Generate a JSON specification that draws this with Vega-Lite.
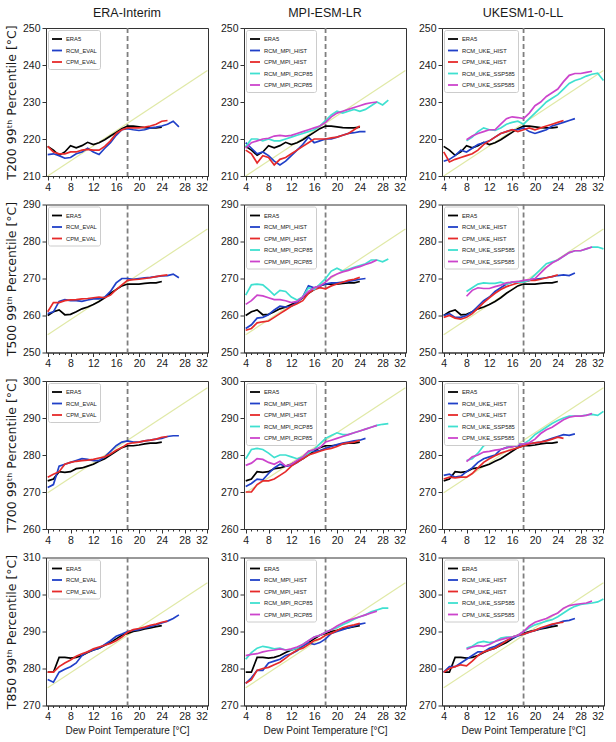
{
"$schema": "https://vega.github.io/schema/vega-lite/v6.json",
"background": "white",
"padding": {"left": 4, "top": 6, "right": 5, "bottom": 5},
"columns": 3,
"spacing": {"row": 28.5, "column": 36},
"bounds": "flush",
"resolve": {"scale": {"x": "independent", "y": "independent", "color": "independent"}},
"config": {
 "font": "Liberation Sans",
 "view": {"stroke": "#333333", "strokeWidth": 1},
 "axis": {"grid": false, "domainColor": "#333333", "tickColor": "#333333", "labelColor": "#1a1a1a", "labelFont": "Liberation Sans", "labelFontSize": 10.5, "labelPadding": 2, "tickSize": 4, "titleColor": "#1a1a1a", "titleFontWeight": "normal"},
 "axisY": {"titleFont": "DejaVu Sans", "titleFontSize": 12.5, "titlePadding": 4},
 "axisX": {"titleFont": "Liberation Sans", "titleFontSize": 10, "titlePadding": 3},
 "title": {"font": "Liberation Sans", "fontSize": 12.5, "fontWeight": "normal", "color": "#1a1a1a", "offset": 4},
 "legend": {"labelFont": "Liberation Sans", "labelFontSize": 5.8, "labelColor": "#1a1a1a", "symbolType": "stroke", "symbolSize": 100, "symbolStrokeWidth": 1.8, "padding": 3, "rowPadding": 1.5, "labelOffset": 3, "strokeColor": "#cccccc", "fillColor": "#ffffff", "cornerRadius": 2, "offset": 2}
},
"datasets": {
"T200": [
{"s":"ERA5","x":4,"y":218},{"s":"ERA5","x":5,"y":217},{"s":"ERA5","x":6,"y":215.6},{"s":"ERA5","x":7,"y":216.5},{"s":"ERA5","x":8,"y":218.2},{"s":"ERA5","x":9,"y":217.6},{"s":"ERA5","x":10,"y":218.2},{"s":"ERA5","x":11,"y":219.1},{"s":"ERA5","x":12,"y":218.5},{"s":"ERA5","x":13,"y":219},{"s":"ERA5","x":14,"y":219.8},{"s":"ERA5","x":15,"y":220.8},{"s":"ERA5","x":16,"y":221.8},{"s":"ERA5","x":17,"y":222.8},{"s":"ERA5","x":18,"y":223.5},{"s":"ERA5","x":19,"y":223.5},{"s":"ERA5","x":20,"y":223.3},{"s":"ERA5","x":21,"y":223.1},{"s":"ERA5","x":22,"y":223},{"s":"ERA5","x":23,"y":223},{"s":"ERA5","x":24,"y":223.2},
{"s":"RCM_EVAL","x":4,"y":215.8},{"s":"RCM_EVAL","x":5,"y":216},{"s":"RCM_EVAL","x":6,"y":215.5},{"s":"RCM_EVAL","x":7,"y":214.8},{"s":"RCM_EVAL","x":8,"y":215},{"s":"RCM_EVAL","x":9,"y":216},{"s":"RCM_EVAL","x":10,"y":216.5},{"s":"RCM_EVAL","x":11,"y":217.5},{"s":"RCM_EVAL","x":12,"y":216.5},{"s":"RCM_EVAL","x":13,"y":215.8},{"s":"RCM_EVAL","x":14,"y":217.5},{"s":"RCM_EVAL","x":15,"y":219},{"s":"RCM_EVAL","x":16,"y":221},{"s":"RCM_EVAL","x":17,"y":222.5},{"s":"RCM_EVAL","x":18,"y":222.8},{"s":"RCM_EVAL","x":19,"y":222.5},{"s":"RCM_EVAL","x":20,"y":222.3},{"s":"RCM_EVAL","x":21,"y":222.5},{"s":"RCM_EVAL","x":22,"y":223},{"s":"RCM_EVAL","x":23,"y":223.2},{"s":"RCM_EVAL","x":24,"y":223.5},{"s":"RCM_EVAL","x":25,"y":224},{"s":"RCM_EVAL","x":26,"y":224.8},{"s":"RCM_EVAL","x":27,"y":223.3},
{"s":"CPM_EVAL","x":4,"y":218},{"s":"CPM_EVAL","x":5,"y":216.5},{"s":"CPM_EVAL","x":6,"y":216},{"s":"CPM_EVAL","x":7,"y":216},{"s":"CPM_EVAL","x":8,"y":216.5},{"s":"CPM_EVAL","x":9,"y":216.5},{"s":"CPM_EVAL","x":10,"y":217},{"s":"CPM_EVAL","x":11,"y":217.2},{"s":"CPM_EVAL","x":12,"y":217},{"s":"CPM_EVAL","x":13,"y":217},{"s":"CPM_EVAL","x":14,"y":218},{"s":"CPM_EVAL","x":15,"y":219.5},{"s":"CPM_EVAL","x":16,"y":221.5},{"s":"CPM_EVAL","x":17,"y":222.5},{"s":"CPM_EVAL","x":18,"y":223},{"s":"CPM_EVAL","x":19,"y":223},{"s":"CPM_EVAL","x":20,"y":223},{"s":"CPM_EVAL","x":21,"y":223.2},{"s":"CPM_EVAL","x":22,"y":223.5},{"s":"CPM_EVAL","x":23,"y":224},{"s":"CPM_EVAL","x":24,"y":224.8},{"s":"CPM_EVAL","x":25,"y":225},
{"s":"RCM_MPI_HIST","x":4,"y":219},{"s":"RCM_MPI_HIST","x":5,"y":217.5},{"s":"RCM_MPI_HIST","x":6,"y":216},{"s":"RCM_MPI_HIST","x":7,"y":216.5},{"s":"RCM_MPI_HIST","x":8,"y":215.5},{"s":"RCM_MPI_HIST","x":9,"y":214},{"s":"RCM_MPI_HIST","x":10,"y":213},{"s":"RCM_MPI_HIST","x":11,"y":214},{"s":"RCM_MPI_HIST","x":12,"y":215.5},{"s":"RCM_MPI_HIST","x":13,"y":217},{"s":"RCM_MPI_HIST","x":14,"y":218.5},{"s":"RCM_MPI_HIST","x":15,"y":220.5},{"s":"RCM_MPI_HIST","x":16,"y":219},{"s":"RCM_MPI_HIST","x":17,"y":219.5},{"s":"RCM_MPI_HIST","x":18,"y":220},{"s":"RCM_MPI_HIST","x":19,"y":220},{"s":"RCM_MPI_HIST","x":20,"y":220.5},{"s":"RCM_MPI_HIST","x":21,"y":221},{"s":"RCM_MPI_HIST","x":22,"y":221.5},{"s":"RCM_MPI_HIST","x":23,"y":221.7},{"s":"RCM_MPI_HIST","x":24,"y":222},{"s":"RCM_MPI_HIST","x":25,"y":222},
{"s":"CPM_MPI_HIST","x":4,"y":217},{"s":"CPM_MPI_HIST","x":5,"y":216},{"s":"CPM_MPI_HIST","x":6,"y":213.5},{"s":"CPM_MPI_HIST","x":7,"y":215.5},{"s":"CPM_MPI_HIST","x":8,"y":215},{"s":"CPM_MPI_HIST","x":9,"y":213},{"s":"CPM_MPI_HIST","x":10,"y":214.5},{"s":"CPM_MPI_HIST","x":11,"y":215},{"s":"CPM_MPI_HIST","x":12,"y":216},{"s":"CPM_MPI_HIST","x":13,"y":217},{"s":"CPM_MPI_HIST","x":14,"y":218},{"s":"CPM_MPI_HIST","x":15,"y":219},{"s":"CPM_MPI_HIST","x":16,"y":220},{"s":"CPM_MPI_HIST","x":17,"y":220},{"s":"CPM_MPI_HIST","x":18,"y":220},{"s":"CPM_MPI_HIST","x":19,"y":220.3},{"s":"CPM_MPI_HIST","x":20,"y":220.5},{"s":"CPM_MPI_HIST","x":21,"y":221},{"s":"CPM_MPI_HIST","x":22,"y":221.5},{"s":"CPM_MPI_HIST","x":23,"y":222.5},{"s":"CPM_MPI_HIST","x":24,"y":223.5},
{"s":"RCM_MPI_RCP85","x":4,"y":218},{"s":"RCM_MPI_RCP85","x":5,"y":220},{"s":"RCM_MPI_RCP85","x":6,"y":220},{"s":"RCM_MPI_RCP85","x":7,"y":219.5},{"s":"RCM_MPI_RCP85","x":8,"y":220},{"s":"RCM_MPI_RCP85","x":9,"y":219.5},{"s":"RCM_MPI_RCP85","x":10,"y":219.5},{"s":"RCM_MPI_RCP85","x":11,"y":220},{"s":"RCM_MPI_RCP85","x":12,"y":220.5},{"s":"RCM_MPI_RCP85","x":13,"y":221},{"s":"RCM_MPI_RCP85","x":14,"y":221.5},{"s":"RCM_MPI_RCP85","x":15,"y":222},{"s":"RCM_MPI_RCP85","x":16,"y":222.5},{"s":"RCM_MPI_RCP85","x":17,"y":223.5},{"s":"RCM_MPI_RCP85","x":18,"y":225},{"s":"RCM_MPI_RCP85","x":19,"y":226.5},{"s":"RCM_MPI_RCP85","x":20,"y":227.5},{"s":"RCM_MPI_RCP85","x":21,"y":227},{"s":"RCM_MPI_RCP85","x":22,"y":227.5},{"s":"RCM_MPI_RCP85","x":23,"y":228},{"s":"RCM_MPI_RCP85","x":24,"y":227.5},{"s":"RCM_MPI_RCP85","x":25,"y":228},{"s":"RCM_MPI_RCP85","x":26,"y":229},{"s":"RCM_MPI_RCP85","x":27,"y":230},{"s":"RCM_MPI_RCP85","x":28,"y":229.2},{"s":"RCM_MPI_RCP85","x":29,"y":230.5},
{"s":"CPM_MPI_RCP85","x":4,"y":217.5},{"s":"CPM_MPI_RCP85","x":5,"y":219},{"s":"CPM_MPI_RCP85","x":6,"y":219.5},{"s":"CPM_MPI_RCP85","x":7,"y":220},{"s":"CPM_MPI_RCP85","x":8,"y":220.2},{"s":"CPM_MPI_RCP85","x":9,"y":220.8},{"s":"CPM_MPI_RCP85","x":10,"y":221},{"s":"CPM_MPI_RCP85","x":11,"y":220.8},{"s":"CPM_MPI_RCP85","x":12,"y":221},{"s":"CPM_MPI_RCP85","x":13,"y":221.5},{"s":"CPM_MPI_RCP85","x":14,"y":222},{"s":"CPM_MPI_RCP85","x":15,"y":222.5},{"s":"CPM_MPI_RCP85","x":16,"y":223},{"s":"CPM_MPI_RCP85","x":17,"y":223.5},{"s":"CPM_MPI_RCP85","x":18,"y":224.5},{"s":"CPM_MPI_RCP85","x":19,"y":226},{"s":"CPM_MPI_RCP85","x":20,"y":227},{"s":"CPM_MPI_RCP85","x":21,"y":227.5},{"s":"CPM_MPI_RCP85","x":22,"y":228},{"s":"CPM_MPI_RCP85","x":23,"y":228.5},{"s":"CPM_MPI_RCP85","x":24,"y":229},{"s":"CPM_MPI_RCP85","x":25,"y":229.5},{"s":"CPM_MPI_RCP85","x":26,"y":229.8},{"s":"CPM_MPI_RCP85","x":27,"y":230},
{"s":"RCM_UKE_HIST","x":4,"y":214},{"s":"RCM_UKE_HIST","x":5,"y":214.5},{"s":"RCM_UKE_HIST","x":6,"y":215.5},{"s":"RCM_UKE_HIST","x":7,"y":217},{"s":"RCM_UKE_HIST","x":8,"y":216.5},{"s":"RCM_UKE_HIST","x":9,"y":217.5},{"s":"RCM_UKE_HIST","x":10,"y":218.5},{"s":"RCM_UKE_HIST","x":11,"y":219},{"s":"RCM_UKE_HIST","x":12,"y":219.5},{"s":"RCM_UKE_HIST","x":13,"y":220.5},{"s":"RCM_UKE_HIST","x":14,"y":221.5},{"s":"RCM_UKE_HIST","x":15,"y":222},{"s":"RCM_UKE_HIST","x":16,"y":222.5},{"s":"RCM_UKE_HIST","x":17,"y":222.5},{"s":"RCM_UKE_HIST","x":18,"y":223},{"s":"RCM_UKE_HIST","x":19,"y":222},{"s":"RCM_UKE_HIST","x":20,"y":221.5},{"s":"RCM_UKE_HIST","x":21,"y":222},{"s":"RCM_UKE_HIST","x":22,"y":222.5},{"s":"RCM_UKE_HIST","x":23,"y":223.5},{"s":"RCM_UKE_HIST","x":24,"y":224},{"s":"RCM_UKE_HIST","x":25,"y":224.5},{"s":"RCM_UKE_HIST","x":26,"y":225},{"s":"RCM_UKE_HIST","x":27,"y":225.5},
{"s":"CPM_UKE_HIST","x":4,"y":216.5},{"s":"CPM_UKE_HIST","x":5,"y":213.8},{"s":"CPM_UKE_HIST","x":6,"y":214.5},{"s":"CPM_UKE_HIST","x":7,"y":215},{"s":"CPM_UKE_HIST","x":8,"y":215.5},{"s":"CPM_UKE_HIST","x":9,"y":216},{"s":"CPM_UKE_HIST","x":10,"y":217},{"s":"CPM_UKE_HIST","x":11,"y":218.5},{"s":"CPM_UKE_HIST","x":12,"y":219.5},{"s":"CPM_UKE_HIST","x":13,"y":220.5},{"s":"CPM_UKE_HIST","x":14,"y":221.5},{"s":"CPM_UKE_HIST","x":15,"y":222},{"s":"CPM_UKE_HIST","x":16,"y":222.5},{"s":"CPM_UKE_HIST","x":17,"y":222},{"s":"CPM_UKE_HIST","x":18,"y":222.5},{"s":"CPM_UKE_HIST","x":19,"y":223},{"s":"CPM_UKE_HIST","x":20,"y":222.5},{"s":"CPM_UKE_HIST","x":21,"y":223},{"s":"CPM_UKE_HIST","x":22,"y":223.5},{"s":"CPM_UKE_HIST","x":23,"y":224},{"s":"CPM_UKE_HIST","x":24,"y":224.5},{"s":"CPM_UKE_HIST","x":25,"y":225},
{"s":"RCM_UKE_SSP585","x":8,"y":219.5},{"s":"RCM_UKE_SSP585","x":9,"y":220.5},{"s":"RCM_UKE_SSP585","x":10,"y":222},{"s":"RCM_UKE_SSP585","x":11,"y":223},{"s":"RCM_UKE_SSP585","x":12,"y":222.5},{"s":"RCM_UKE_SSP585","x":13,"y":222.3},{"s":"RCM_UKE_SSP585","x":14,"y":223},{"s":"RCM_UKE_SSP585","x":15,"y":224},{"s":"RCM_UKE_SSP585","x":16,"y":224.5},{"s":"RCM_UKE_SSP585","x":17,"y":224.8},{"s":"RCM_UKE_SSP585","x":18,"y":224},{"s":"RCM_UKE_SSP585","x":19,"y":225.5},{"s":"RCM_UKE_SSP585","x":20,"y":227},{"s":"RCM_UKE_SSP585","x":21,"y":228.5},{"s":"RCM_UKE_SSP585","x":22,"y":230},{"s":"RCM_UKE_SSP585","x":23,"y":231},{"s":"RCM_UKE_SSP585","x":24,"y":232},{"s":"RCM_UKE_SSP585","x":25,"y":233.5},{"s":"RCM_UKE_SSP585","x":26,"y":235},{"s":"RCM_UKE_SSP585","x":27,"y":235.8},{"s":"RCM_UKE_SSP585","x":28,"y":236.3},{"s":"RCM_UKE_SSP585","x":29,"y":237},{"s":"RCM_UKE_SSP585","x":30,"y":237.5},{"s":"RCM_UKE_SSP585","x":31,"y":237.8},{"s":"RCM_UKE_SSP585","x":32,"y":235.8},
{"s":"CPM_UKE_SSP585","x":8,"y":219.8},{"s":"CPM_UKE_SSP585","x":9,"y":220.8},{"s":"CPM_UKE_SSP585","x":10,"y":221.5},{"s":"CPM_UKE_SSP585","x":11,"y":222},{"s":"CPM_UKE_SSP585","x":12,"y":222.5},{"s":"CPM_UKE_SSP585","x":13,"y":222.5},{"s":"CPM_UKE_SSP585","x":14,"y":224},{"s":"CPM_UKE_SSP585","x":15,"y":225.5},{"s":"CPM_UKE_SSP585","x":16,"y":226},{"s":"CPM_UKE_SSP585","x":17,"y":225.8},{"s":"CPM_UKE_SSP585","x":18,"y":225.5},{"s":"CPM_UKE_SSP585","x":19,"y":227},{"s":"CPM_UKE_SSP585","x":20,"y":229},{"s":"CPM_UKE_SSP585","x":21,"y":230},{"s":"CPM_UKE_SSP585","x":22,"y":231.5},{"s":"CPM_UKE_SSP585","x":23,"y":232.5},{"s":"CPM_UKE_SSP585","x":24,"y":233.5},{"s":"CPM_UKE_SSP585","x":25,"y":235.5},{"s":"CPM_UKE_SSP585","x":26,"y":237.2},{"s":"CPM_UKE_SSP585","x":27,"y":237.7},{"s":"CPM_UKE_SSP585","x":28,"y":237.7},{"s":"CPM_UKE_SSP585","x":29,"y":238},{"s":"CPM_UKE_SSP585","x":30,"y":238.3}
],
"T500": [
{"s":"ERA5","x":4,"y":260},{"s":"ERA5","x":5,"y":261},{"s":"ERA5","x":6,"y":261.5},{"s":"ERA5","x":7,"y":260.2},{"s":"ERA5","x":8,"y":260.3},{"s":"ERA5","x":9,"y":261},{"s":"ERA5","x":10,"y":261.8},{"s":"ERA5","x":11,"y":262.3},{"s":"ERA5","x":12,"y":263},{"s":"ERA5","x":13,"y":263.8},{"s":"ERA5","x":14,"y":264.8},{"s":"ERA5","x":15,"y":266},{"s":"ERA5","x":16,"y":267},{"s":"ERA5","x":17,"y":268},{"s":"ERA5","x":18,"y":268.5},{"s":"ERA5","x":19,"y":268.5},{"s":"ERA5","x":20,"y":268.5},{"s":"ERA5","x":21,"y":268.7},{"s":"ERA5","x":22,"y":268.8},{"s":"ERA5","x":23,"y":268.8},{"s":"ERA5","x":24,"y":269.2},
{"s":"RCM_EVAL","x":4,"y":260.5},{"s":"RCM_EVAL","x":5,"y":261},{"s":"RCM_EVAL","x":6,"y":263.8},{"s":"RCM_EVAL","x":7,"y":264.3},{"s":"RCM_EVAL","x":8,"y":264},{"s":"RCM_EVAL","x":9,"y":264},{"s":"RCM_EVAL","x":10,"y":263.8},{"s":"RCM_EVAL","x":11,"y":264.2},{"s":"RCM_EVAL","x":12,"y":264.5},{"s":"RCM_EVAL","x":13,"y":264.5},{"s":"RCM_EVAL","x":14,"y":265},{"s":"RCM_EVAL","x":15,"y":266.5},{"s":"RCM_EVAL","x":16,"y":268.8},{"s":"RCM_EVAL","x":17,"y":270},{"s":"RCM_EVAL","x":18,"y":270},{"s":"RCM_EVAL","x":19,"y":269.8},{"s":"RCM_EVAL","x":20,"y":270},{"s":"RCM_EVAL","x":21,"y":270.2},{"s":"RCM_EVAL","x":22,"y":270.3},{"s":"RCM_EVAL","x":23,"y":270.5},{"s":"RCM_EVAL","x":24,"y":270.7},{"s":"RCM_EVAL","x":25,"y":270.8},{"s":"RCM_EVAL","x":26,"y":271.2},{"s":"RCM_EVAL","x":27,"y":270.2},
{"s":"CPM_EVAL","x":4,"y":261},{"s":"CPM_EVAL","x":5,"y":263.5},{"s":"CPM_EVAL","x":6,"y":263.5},{"s":"CPM_EVAL","x":7,"y":264},{"s":"CPM_EVAL","x":8,"y":264.2},{"s":"CPM_EVAL","x":9,"y":264.3},{"s":"CPM_EVAL","x":10,"y":264.5},{"s":"CPM_EVAL","x":11,"y":264.6},{"s":"CPM_EVAL","x":12,"y":264.8},{"s":"CPM_EVAL","x":13,"y":265},{"s":"CPM_EVAL","x":14,"y":264.8},{"s":"CPM_EVAL","x":15,"y":265.5},{"s":"CPM_EVAL","x":16,"y":267},{"s":"CPM_EVAL","x":17,"y":268.3},{"s":"CPM_EVAL","x":18,"y":269.5},{"s":"CPM_EVAL","x":19,"y":269.7},{"s":"CPM_EVAL","x":20,"y":269.8},{"s":"CPM_EVAL","x":21,"y":270},{"s":"CPM_EVAL","x":22,"y":270.2},{"s":"CPM_EVAL","x":23,"y":270.5},{"s":"CPM_EVAL","x":24,"y":270.8},{"s":"CPM_EVAL","x":25,"y":271},
{"s":"RCM_MPI_HIST","x":4,"y":256.5},{"s":"RCM_MPI_HIST","x":5,"y":257.5},{"s":"RCM_MPI_HIST","x":6,"y":259.3},{"s":"RCM_MPI_HIST","x":7,"y":259.5},{"s":"RCM_MPI_HIST","x":8,"y":260.2},{"s":"RCM_MPI_HIST","x":9,"y":261.5},{"s":"RCM_MPI_HIST","x":10,"y":262.5},{"s":"RCM_MPI_HIST","x":11,"y":262.3},{"s":"RCM_MPI_HIST","x":12,"y":262.5},{"s":"RCM_MPI_HIST","x":13,"y":263.5},{"s":"RCM_MPI_HIST","x":14,"y":265},{"s":"RCM_MPI_HIST","x":15,"y":268},{"s":"RCM_MPI_HIST","x":16,"y":267.5},{"s":"RCM_MPI_HIST","x":17,"y":268},{"s":"RCM_MPI_HIST","x":18,"y":268.5},{"s":"RCM_MPI_HIST","x":19,"y":268.8},{"s":"RCM_MPI_HIST","x":20,"y":268.8},{"s":"RCM_MPI_HIST","x":21,"y":269},{"s":"RCM_MPI_HIST","x":22,"y":269.2},{"s":"RCM_MPI_HIST","x":23,"y":269.5},{"s":"RCM_MPI_HIST","x":24,"y":269.8},{"s":"RCM_MPI_HIST","x":25,"y":270},
{"s":"CPM_MPI_HIST","x":4,"y":256},{"s":"CPM_MPI_HIST","x":5,"y":256.5},{"s":"CPM_MPI_HIST","x":6,"y":258},{"s":"CPM_MPI_HIST","x":7,"y":258.3},{"s":"CPM_MPI_HIST","x":8,"y":258.5},{"s":"CPM_MPI_HIST","x":9,"y":259.5},{"s":"CPM_MPI_HIST","x":10,"y":260.5},{"s":"CPM_MPI_HIST","x":11,"y":261.5},{"s":"CPM_MPI_HIST","x":12,"y":262.5},{"s":"CPM_MPI_HIST","x":13,"y":263.2},{"s":"CPM_MPI_HIST","x":14,"y":264},{"s":"CPM_MPI_HIST","x":15,"y":266},{"s":"CPM_MPI_HIST","x":16,"y":267},{"s":"CPM_MPI_HIST","x":17,"y":267.5},{"s":"CPM_MPI_HIST","x":18,"y":267.2},{"s":"CPM_MPI_HIST","x":19,"y":268},{"s":"CPM_MPI_HIST","x":20,"y":268.5},{"s":"CPM_MPI_HIST","x":21,"y":269},{"s":"CPM_MPI_HIST","x":22,"y":269.5},{"s":"CPM_MPI_HIST","x":23,"y":269.8},{"s":"CPM_MPI_HIST","x":24,"y":270.3},
{"s":"RCM_MPI_RCP85","x":4,"y":265.5},{"s":"RCM_MPI_RCP85","x":5,"y":268.3},{"s":"RCM_MPI_RCP85","x":6,"y":268.5},{"s":"RCM_MPI_RCP85","x":7,"y":268.3},{"s":"RCM_MPI_RCP85","x":8,"y":267},{"s":"RCM_MPI_RCP85","x":9,"y":265.5},{"s":"RCM_MPI_RCP85","x":10,"y":266.8},{"s":"RCM_MPI_RCP85","x":11,"y":266.5},{"s":"RCM_MPI_RCP85","x":12,"y":265},{"s":"RCM_MPI_RCP85","x":13,"y":264.2},{"s":"RCM_MPI_RCP85","x":14,"y":265},{"s":"RCM_MPI_RCP85","x":15,"y":267.5},{"s":"RCM_MPI_RCP85","x":16,"y":267},{"s":"RCM_MPI_RCP85","x":17,"y":268.5},{"s":"RCM_MPI_RCP85","x":18,"y":270},{"s":"RCM_MPI_RCP85","x":19,"y":272},{"s":"RCM_MPI_RCP85","x":20,"y":272.8},{"s":"RCM_MPI_RCP85","x":21,"y":272},{"s":"RCM_MPI_RCP85","x":22,"y":272.5},{"s":"RCM_MPI_RCP85","x":23,"y":273},{"s":"RCM_MPI_RCP85","x":24,"y":273.5},{"s":"RCM_MPI_RCP85","x":25,"y":274},{"s":"RCM_MPI_RCP85","x":26,"y":275},{"s":"RCM_MPI_RCP85","x":27,"y":275},{"s":"RCM_MPI_RCP85","x":28,"y":274.5},{"s":"RCM_MPI_RCP85","x":29,"y":275.3},
{"s":"CPM_MPI_RCP85","x":4,"y":263},{"s":"CPM_MPI_RCP85","x":5,"y":264},{"s":"CPM_MPI_RCP85","x":6,"y":265.5},{"s":"CPM_MPI_RCP85","x":7,"y":265.3},{"s":"CPM_MPI_RCP85","x":8,"y":264.8},{"s":"CPM_MPI_RCP85","x":9,"y":264.3},{"s":"CPM_MPI_RCP85","x":10,"y":264.3},{"s":"CPM_MPI_RCP85","x":11,"y":264},{"s":"CPM_MPI_RCP85","x":12,"y":263.5},{"s":"CPM_MPI_RCP85","x":13,"y":263.8},{"s":"CPM_MPI_RCP85","x":14,"y":265},{"s":"CPM_MPI_RCP85","x":15,"y":266.5},{"s":"CPM_MPI_RCP85","x":16,"y":267.5},{"s":"CPM_MPI_RCP85","x":17,"y":268},{"s":"CPM_MPI_RCP85","x":18,"y":269},{"s":"CPM_MPI_RCP85","x":19,"y":270.5},{"s":"CPM_MPI_RCP85","x":20,"y":271.2},{"s":"CPM_MPI_RCP85","x":21,"y":271.8},{"s":"CPM_MPI_RCP85","x":22,"y":272.2},{"s":"CPM_MPI_RCP85","x":23,"y":272.8},{"s":"CPM_MPI_RCP85","x":24,"y":273.2},{"s":"CPM_MPI_RCP85","x":25,"y":273.8},{"s":"CPM_MPI_RCP85","x":26,"y":274.3},{"s":"CPM_MPI_RCP85","x":27,"y":275},
{"s":"RCM_UKE_HIST","x":4,"y":260},{"s":"RCM_UKE_HIST","x":5,"y":260.5},{"s":"RCM_UKE_HIST","x":6,"y":259.5},{"s":"RCM_UKE_HIST","x":7,"y":259.5},{"s":"RCM_UKE_HIST","x":8,"y":260},{"s":"RCM_UKE_HIST","x":9,"y":261},{"s":"RCM_UKE_HIST","x":10,"y":262.5},{"s":"RCM_UKE_HIST","x":11,"y":264},{"s":"RCM_UKE_HIST","x":12,"y":265},{"s":"RCM_UKE_HIST","x":13,"y":266.5},{"s":"RCM_UKE_HIST","x":14,"y":267.5},{"s":"RCM_UKE_HIST","x":15,"y":268.5},{"s":"RCM_UKE_HIST","x":16,"y":269},{"s":"RCM_UKE_HIST","x":17,"y":269},{"s":"RCM_UKE_HIST","x":18,"y":269.2},{"s":"RCM_UKE_HIST","x":19,"y":269.5},{"s":"RCM_UKE_HIST","x":20,"y":269.8},{"s":"RCM_UKE_HIST","x":21,"y":270},{"s":"RCM_UKE_HIST","x":22,"y":270.2},{"s":"RCM_UKE_HIST","x":23,"y":270.5},{"s":"RCM_UKE_HIST","x":24,"y":270.8},{"s":"RCM_UKE_HIST","x":25,"y":271},{"s":"RCM_UKE_HIST","x":26,"y":270.8},{"s":"RCM_UKE_HIST","x":27,"y":271.5},
{"s":"CPM_UKE_HIST","x":4,"y":259.5},{"s":"CPM_UKE_HIST","x":5,"y":260},{"s":"CPM_UKE_HIST","x":6,"y":259.3},{"s":"CPM_UKE_HIST","x":7,"y":259},{"s":"CPM_UKE_HIST","x":8,"y":259.5},{"s":"CPM_UKE_HIST","x":9,"y":260.5},{"s":"CPM_UKE_HIST","x":10,"y":262},{"s":"CPM_UKE_HIST","x":11,"y":263.5},{"s":"CPM_UKE_HIST","x":12,"y":264.8},{"s":"CPM_UKE_HIST","x":13,"y":266},{"s":"CPM_UKE_HIST","x":14,"y":267},{"s":"CPM_UKE_HIST","x":15,"y":267.8},{"s":"CPM_UKE_HIST","x":16,"y":268.3},{"s":"CPM_UKE_HIST","x":17,"y":268.8},{"s":"CPM_UKE_HIST","x":18,"y":269},{"s":"CPM_UKE_HIST","x":19,"y":269.5},{"s":"CPM_UKE_HIST","x":20,"y":269.5},{"s":"CPM_UKE_HIST","x":21,"y":269.8},{"s":"CPM_UKE_HIST","x":22,"y":270.2},{"s":"CPM_UKE_HIST","x":23,"y":270.5},{"s":"CPM_UKE_HIST","x":24,"y":271},
{"s":"RCM_UKE_SSP585","x":8,"y":266.5},{"s":"RCM_UKE_SSP585","x":9,"y":267.5},{"s":"RCM_UKE_SSP585","x":10,"y":268.5},{"s":"RCM_UKE_SSP585","x":11,"y":268.8},{"s":"RCM_UKE_SSP585","x":12,"y":268.7},{"s":"RCM_UKE_SSP585","x":13,"y":268.7},{"s":"RCM_UKE_SSP585","x":14,"y":269},{"s":"RCM_UKE_SSP585","x":15,"y":268.5},{"s":"RCM_UKE_SSP585","x":16,"y":269},{"s":"RCM_UKE_SSP585","x":17,"y":269},{"s":"RCM_UKE_SSP585","x":18,"y":269},{"s":"RCM_UKE_SSP585","x":19,"y":269.5},{"s":"RCM_UKE_SSP585","x":20,"y":271},{"s":"RCM_UKE_SSP585","x":21,"y":272.5},{"s":"RCM_UKE_SSP585","x":22,"y":274},{"s":"RCM_UKE_SSP585","x":23,"y":274.5},{"s":"RCM_UKE_SSP585","x":24,"y":275},{"s":"RCM_UKE_SSP585","x":25,"y":276},{"s":"RCM_UKE_SSP585","x":26,"y":277},{"s":"RCM_UKE_SSP585","x":27,"y":277.5},{"s":"RCM_UKE_SSP585","x":28,"y":277.5},{"s":"RCM_UKE_SSP585","x":29,"y":278},{"s":"RCM_UKE_SSP585","x":30,"y":278.5},{"s":"RCM_UKE_SSP585","x":31,"y":278.5},{"s":"RCM_UKE_SSP585","x":32,"y":278},
{"s":"CPM_UKE_SSP585","x":8,"y":265.2},{"s":"CPM_UKE_SSP585","x":9,"y":266.8},{"s":"CPM_UKE_SSP585","x":10,"y":267.5},{"s":"CPM_UKE_SSP585","x":11,"y":267.3},{"s":"CPM_UKE_SSP585","x":12,"y":267.3},{"s":"CPM_UKE_SSP585","x":13,"y":267.8},{"s":"CPM_UKE_SSP585","x":14,"y":268.2},{"s":"CPM_UKE_SSP585","x":15,"y":268.8},{"s":"CPM_UKE_SSP585","x":16,"y":269},{"s":"CPM_UKE_SSP585","x":17,"y":269.2},{"s":"CPM_UKE_SSP585","x":18,"y":269.5},{"s":"CPM_UKE_SSP585","x":19,"y":269.7},{"s":"CPM_UKE_SSP585","x":20,"y":270},{"s":"CPM_UKE_SSP585","x":21,"y":271.5},{"s":"CPM_UKE_SSP585","x":22,"y":273},{"s":"CPM_UKE_SSP585","x":23,"y":274.2},{"s":"CPM_UKE_SSP585","x":24,"y":275},{"s":"CPM_UKE_SSP585","x":25,"y":276},{"s":"CPM_UKE_SSP585","x":26,"y":277},{"s":"CPM_UKE_SSP585","x":27,"y":277.5},{"s":"CPM_UKE_SSP585","x":28,"y":277.5},{"s":"CPM_UKE_SSP585","x":29,"y":278},{"s":"CPM_UKE_SSP585","x":30,"y":278.5}
],
"T700": [
{"s":"ERA5","x":4,"y":273},{"s":"ERA5","x":5,"y":273.5},{"s":"ERA5","x":6,"y":275.5},{"s":"ERA5","x":7,"y":275.3},{"s":"ERA5","x":8,"y":275.5},{"s":"ERA5","x":9,"y":276.3},{"s":"ERA5","x":10,"y":276.5},{"s":"ERA5","x":11,"y":277},{"s":"ERA5","x":12,"y":277.5},{"s":"ERA5","x":13,"y":278.3},{"s":"ERA5","x":14,"y":279},{"s":"ERA5","x":15,"y":280},{"s":"ERA5","x":16,"y":281},{"s":"ERA5","x":17,"y":282},{"s":"ERA5","x":18,"y":282.5},{"s":"ERA5","x":19,"y":282.5},{"s":"ERA5","x":20,"y":282.7},{"s":"ERA5","x":21,"y":283},{"s":"ERA5","x":22,"y":283.2},{"s":"ERA5","x":23,"y":283.2},{"s":"ERA5","x":24,"y":283.5},
{"s":"RCM_EVAL","x":4,"y":271.2},{"s":"RCM_EVAL","x":5,"y":272},{"s":"RCM_EVAL","x":6,"y":277},{"s":"RCM_EVAL","x":7,"y":277.5},{"s":"RCM_EVAL","x":8,"y":278},{"s":"RCM_EVAL","x":9,"y":278.5},{"s":"RCM_EVAL","x":10,"y":279},{"s":"RCM_EVAL","x":11,"y":278.8},{"s":"RCM_EVAL","x":12,"y":278.5},{"s":"RCM_EVAL","x":13,"y":278.5},{"s":"RCM_EVAL","x":14,"y":279.5},{"s":"RCM_EVAL","x":15,"y":281},{"s":"RCM_EVAL","x":16,"y":282.5},{"s":"RCM_EVAL","x":17,"y":283.5},{"s":"RCM_EVAL","x":18,"y":283.8},{"s":"RCM_EVAL","x":19,"y":283.5},{"s":"RCM_EVAL","x":20,"y":283.5},{"s":"RCM_EVAL","x":21,"y":283.8},{"s":"RCM_EVAL","x":22,"y":284},{"s":"RCM_EVAL","x":23,"y":284.3},{"s":"RCM_EVAL","x":24,"y":284.5},{"s":"RCM_EVAL","x":25,"y":285},{"s":"RCM_EVAL","x":26,"y":285.2},{"s":"RCM_EVAL","x":27,"y":285.2},
{"s":"CPM_EVAL","x":4,"y":274},{"s":"CPM_EVAL","x":5,"y":274.8},{"s":"CPM_EVAL","x":6,"y":275.5},{"s":"CPM_EVAL","x":7,"y":277.5},{"s":"CPM_EVAL","x":8,"y":278},{"s":"CPM_EVAL","x":9,"y":278.3},{"s":"CPM_EVAL","x":10,"y":278.5},{"s":"CPM_EVAL","x":11,"y":278.6},{"s":"CPM_EVAL","x":12,"y":278.8},{"s":"CPM_EVAL","x":13,"y":279.2},{"s":"CPM_EVAL","x":14,"y":279.5},{"s":"CPM_EVAL","x":15,"y":280.3},{"s":"CPM_EVAL","x":16,"y":281.3},{"s":"CPM_EVAL","x":17,"y":282},{"s":"CPM_EVAL","x":18,"y":283},{"s":"CPM_EVAL","x":19,"y":283.3},{"s":"CPM_EVAL","x":20,"y":283.5},{"s":"CPM_EVAL","x":21,"y":283.8},{"s":"CPM_EVAL","x":22,"y":284},{"s":"CPM_EVAL","x":23,"y":284.3},{"s":"CPM_EVAL","x":24,"y":284.8},{"s":"CPM_EVAL","x":25,"y":285},
{"s":"RCM_MPI_HIST","x":4,"y":271.5},{"s":"RCM_MPI_HIST","x":5,"y":272.3},{"s":"RCM_MPI_HIST","x":6,"y":273.5},{"s":"RCM_MPI_HIST","x":7,"y":273.3},{"s":"RCM_MPI_HIST","x":8,"y":275},{"s":"RCM_MPI_HIST","x":9,"y":276.5},{"s":"RCM_MPI_HIST","x":10,"y":277.5},{"s":"RCM_MPI_HIST","x":11,"y":277},{"s":"RCM_MPI_HIST","x":12,"y":277.2},{"s":"RCM_MPI_HIST","x":13,"y":278},{"s":"RCM_MPI_HIST","x":14,"y":279},{"s":"RCM_MPI_HIST","x":15,"y":281},{"s":"RCM_MPI_HIST","x":16,"y":281},{"s":"RCM_MPI_HIST","x":17,"y":281.2},{"s":"RCM_MPI_HIST","x":18,"y":281.8},{"s":"RCM_MPI_HIST","x":19,"y":282.3},{"s":"RCM_MPI_HIST","x":20,"y":282.8},{"s":"RCM_MPI_HIST","x":21,"y":283.2},{"s":"RCM_MPI_HIST","x":22,"y":283.5},{"s":"RCM_MPI_HIST","x":23,"y":283.8},{"s":"RCM_MPI_HIST","x":24,"y":284},{"s":"RCM_MPI_HIST","x":25,"y":284.5},
{"s":"CPM_MPI_HIST","x":4,"y":270},{"s":"CPM_MPI_HIST","x":5,"y":270},{"s":"CPM_MPI_HIST","x":6,"y":272},{"s":"CPM_MPI_HIST","x":7,"y":273},{"s":"CPM_MPI_HIST","x":8,"y":273},{"s":"CPM_MPI_HIST","x":9,"y":273.5},{"s":"CPM_MPI_HIST","x":10,"y":274.5},{"s":"CPM_MPI_HIST","x":11,"y":275.5},{"s":"CPM_MPI_HIST","x":12,"y":277},{"s":"CPM_MPI_HIST","x":13,"y":278},{"s":"CPM_MPI_HIST","x":14,"y":279},{"s":"CPM_MPI_HIST","x":15,"y":280},{"s":"CPM_MPI_HIST","x":16,"y":280.5},{"s":"CPM_MPI_HIST","x":17,"y":281},{"s":"CPM_MPI_HIST","x":18,"y":281.5},{"s":"CPM_MPI_HIST","x":19,"y":281.8},{"s":"CPM_MPI_HIST","x":20,"y":282.3},{"s":"CPM_MPI_HIST","x":21,"y":283},{"s":"CPM_MPI_HIST","x":22,"y":283.3},{"s":"CPM_MPI_HIST","x":23,"y":283.5},{"s":"CPM_MPI_HIST","x":24,"y":284},
{"s":"RCM_MPI_RCP85","x":4,"y":279},{"s":"RCM_MPI_RCP85","x":5,"y":281.5},{"s":"RCM_MPI_RCP85","x":6,"y":281.8},{"s":"RCM_MPI_RCP85","x":7,"y":281.5},{"s":"RCM_MPI_RCP85","x":8,"y":280.5},{"s":"RCM_MPI_RCP85","x":9,"y":279.3},{"s":"RCM_MPI_RCP85","x":10,"y":280},{"s":"RCM_MPI_RCP85","x":11,"y":280},{"s":"RCM_MPI_RCP85","x":12,"y":279.5},{"s":"RCM_MPI_RCP85","x":13,"y":279},{"s":"RCM_MPI_RCP85","x":14,"y":279.5},{"s":"RCM_MPI_RCP85","x":15,"y":280.5},{"s":"RCM_MPI_RCP85","x":16,"y":281.5},{"s":"RCM_MPI_RCP85","x":17,"y":283},{"s":"RCM_MPI_RCP85","x":18,"y":284.5},{"s":"RCM_MPI_RCP85","x":19,"y":285.3},{"s":"RCM_MPI_RCP85","x":20,"y":286},{"s":"RCM_MPI_RCP85","x":21,"y":285.5},{"s":"RCM_MPI_RCP85","x":22,"y":285.5},{"s":"RCM_MPI_RCP85","x":23,"y":286},{"s":"RCM_MPI_RCP85","x":24,"y":286.5},{"s":"RCM_MPI_RCP85","x":25,"y":287},{"s":"RCM_MPI_RCP85","x":26,"y":287.5},{"s":"RCM_MPI_RCP85","x":27,"y":288},{"s":"RCM_MPI_RCP85","x":28,"y":288.3},{"s":"RCM_MPI_RCP85","x":29,"y":288.5},
{"s":"CPM_MPI_RCP85","x":4,"y":277.2},{"s":"CPM_MPI_RCP85","x":5,"y":277.8},{"s":"CPM_MPI_RCP85","x":6,"y":279},{"s":"CPM_MPI_RCP85","x":7,"y":278.8},{"s":"CPM_MPI_RCP85","x":8,"y":278},{"s":"CPM_MPI_RCP85","x":9,"y":277.5},{"s":"CPM_MPI_RCP85","x":10,"y":278.3},{"s":"CPM_MPI_RCP85","x":11,"y":277},{"s":"CPM_MPI_RCP85","x":12,"y":277.5},{"s":"CPM_MPI_RCP85","x":13,"y":278.5},{"s":"CPM_MPI_RCP85","x":14,"y":279.5},{"s":"CPM_MPI_RCP85","x":15,"y":281},{"s":"CPM_MPI_RCP85","x":16,"y":281.5},{"s":"CPM_MPI_RCP85","x":17,"y":282},{"s":"CPM_MPI_RCP85","x":18,"y":283.5},{"s":"CPM_MPI_RCP85","x":19,"y":284},{"s":"CPM_MPI_RCP85","x":20,"y":284.5},{"s":"CPM_MPI_RCP85","x":21,"y":285},{"s":"CPM_MPI_RCP85","x":22,"y":285.5},{"s":"CPM_MPI_RCP85","x":23,"y":286},{"s":"CPM_MPI_RCP85","x":24,"y":286.5},{"s":"CPM_MPI_RCP85","x":25,"y":287},{"s":"CPM_MPI_RCP85","x":26,"y":287.5},{"s":"CPM_MPI_RCP85","x":27,"y":288},
{"s":"RCM_UKE_HIST","x":4,"y":274.5},{"s":"RCM_UKE_HIST","x":5,"y":274.8},{"s":"RCM_UKE_HIST","x":6,"y":274},{"s":"RCM_UKE_HIST","x":7,"y":274.3},{"s":"RCM_UKE_HIST","x":8,"y":275.5},{"s":"RCM_UKE_HIST","x":9,"y":276.5},{"s":"RCM_UKE_HIST","x":10,"y":278},{"s":"RCM_UKE_HIST","x":11,"y":279},{"s":"RCM_UKE_HIST","x":12,"y":279.5},{"s":"RCM_UKE_HIST","x":13,"y":280},{"s":"RCM_UKE_HIST","x":14,"y":281.5},{"s":"RCM_UKE_HIST","x":15,"y":282},{"s":"RCM_UKE_HIST","x":16,"y":282.3},{"s":"RCM_UKE_HIST","x":17,"y":282.5},{"s":"RCM_UKE_HIST","x":18,"y":283},{"s":"RCM_UKE_HIST","x":19,"y":283},{"s":"RCM_UKE_HIST","x":20,"y":283.3},{"s":"RCM_UKE_HIST","x":21,"y":283.5},{"s":"RCM_UKE_HIST","x":22,"y":284},{"s":"RCM_UKE_HIST","x":23,"y":284.5},{"s":"RCM_UKE_HIST","x":24,"y":285},{"s":"RCM_UKE_HIST","x":25,"y":285.5},{"s":"RCM_UKE_HIST","x":26,"y":285.3},{"s":"RCM_UKE_HIST","x":27,"y":285.7},
{"s":"CPM_UKE_HIST","x":4,"y":273.5},{"s":"CPM_UKE_HIST","x":5,"y":274},{"s":"CPM_UKE_HIST","x":6,"y":273.8},{"s":"CPM_UKE_HIST","x":7,"y":274},{"s":"CPM_UKE_HIST","x":8,"y":274},{"s":"CPM_UKE_HIST","x":9,"y":275},{"s":"CPM_UKE_HIST","x":10,"y":276.5},{"s":"CPM_UKE_HIST","x":11,"y":278},{"s":"CPM_UKE_HIST","x":12,"y":279},{"s":"CPM_UKE_HIST","x":13,"y":279.8},{"s":"CPM_UKE_HIST","x":14,"y":280.5},{"s":"CPM_UKE_HIST","x":15,"y":281},{"s":"CPM_UKE_HIST","x":16,"y":281.5},{"s":"CPM_UKE_HIST","x":17,"y":282},{"s":"CPM_UKE_HIST","x":18,"y":282.5},{"s":"CPM_UKE_HIST","x":19,"y":283},{"s":"CPM_UKE_HIST","x":20,"y":283.3},{"s":"CPM_UKE_HIST","x":21,"y":283.5},{"s":"CPM_UKE_HIST","x":22,"y":283.8},{"s":"CPM_UKE_HIST","x":23,"y":284.3},{"s":"CPM_UKE_HIST","x":24,"y":284.8},{"s":"CPM_UKE_HIST","x":25,"y":284.5},
{"s":"RCM_UKE_SSP585","x":8,"y":278.5},{"s":"RCM_UKE_SSP585","x":9,"y":279},{"s":"RCM_UKE_SSP585","x":10,"y":280.5},{"s":"RCM_UKE_SSP585","x":11,"y":282.5},{"s":"RCM_UKE_SSP585","x":12,"y":283},{"s":"RCM_UKE_SSP585","x":13,"y":283},{"s":"RCM_UKE_SSP585","x":14,"y":283.5},{"s":"RCM_UKE_SSP585","x":15,"y":282.5},{"s":"RCM_UKE_SSP585","x":16,"y":282.5},{"s":"RCM_UKE_SSP585","x":17,"y":283},{"s":"RCM_UKE_SSP585","x":18,"y":283},{"s":"RCM_UKE_SSP585","x":19,"y":284},{"s":"RCM_UKE_SSP585","x":20,"y":285.5},{"s":"RCM_UKE_SSP585","x":21,"y":286.5},{"s":"RCM_UKE_SSP585","x":22,"y":287.5},{"s":"RCM_UKE_SSP585","x":23,"y":288.5},{"s":"RCM_UKE_SSP585","x":24,"y":289.3},{"s":"RCM_UKE_SSP585","x":25,"y":290},{"s":"RCM_UKE_SSP585","x":26,"y":290.5},{"s":"RCM_UKE_SSP585","x":27,"y":290.5},{"s":"RCM_UKE_SSP585","x":28,"y":290.5},{"s":"RCM_UKE_SSP585","x":29,"y":290.8},{"s":"RCM_UKE_SSP585","x":30,"y":291},{"s":"RCM_UKE_SSP585","x":31,"y":290.7},{"s":"RCM_UKE_SSP585","x":32,"y":291.8},
{"s":"CPM_UKE_SSP585","x":8,"y":278.2},{"s":"CPM_UKE_SSP585","x":9,"y":279.5},{"s":"CPM_UKE_SSP585","x":10,"y":280},{"s":"CPM_UKE_SSP585","x":11,"y":280.8},{"s":"CPM_UKE_SSP585","x":12,"y":281},{"s":"CPM_UKE_SSP585","x":13,"y":281.3},{"s":"CPM_UKE_SSP585","x":14,"y":281.5},{"s":"CPM_UKE_SSP585","x":15,"y":282},{"s":"CPM_UKE_SSP585","x":16,"y":282.2},{"s":"CPM_UKE_SSP585","x":17,"y":282.8},{"s":"CPM_UKE_SSP585","x":18,"y":283},{"s":"CPM_UKE_SSP585","x":19,"y":283.3},{"s":"CPM_UKE_SSP585","x":20,"y":284.3},{"s":"CPM_UKE_SSP585","x":21,"y":285.8},{"s":"CPM_UKE_SSP585","x":22,"y":286.8},{"s":"CPM_UKE_SSP585","x":23,"y":287.5},{"s":"CPM_UKE_SSP585","x":24,"y":288.5},{"s":"CPM_UKE_SSP585","x":25,"y":289.5},{"s":"CPM_UKE_SSP585","x":26,"y":290.2},{"s":"CPM_UKE_SSP585","x":27,"y":290.5},{"s":"CPM_UKE_SSP585","x":28,"y":290.5},{"s":"CPM_UKE_SSP585","x":29,"y":290.7},{"s":"CPM_UKE_SSP585","x":30,"y":291.2}
],
"T850": [
{"s":"ERA5","x":4,"y":279},{"s":"ERA5","x":5,"y":279},{"s":"ERA5","x":6,"y":283},{"s":"ERA5","x":7,"y":283},{"s":"ERA5","x":8,"y":282.8},{"s":"ERA5","x":9,"y":283},{"s":"ERA5","x":10,"y":283.5},{"s":"ERA5","x":11,"y":284.3},{"s":"ERA5","x":12,"y":285},{"s":"ERA5","x":13,"y":285.5},{"s":"ERA5","x":14,"y":286.3},{"s":"ERA5","x":15,"y":287},{"s":"ERA5","x":16,"y":288},{"s":"ERA5","x":17,"y":289},{"s":"ERA5","x":18,"y":289.5},{"s":"ERA5","x":19,"y":290},{"s":"ERA5","x":20,"y":290.3},{"s":"ERA5","x":21,"y":290.7},{"s":"ERA5","x":22,"y":291},{"s":"ERA5","x":23,"y":291.3},{"s":"ERA5","x":24,"y":291.6},
{"s":"RCM_EVAL","x":4,"y":277},{"s":"RCM_EVAL","x":5,"y":276.3},{"s":"RCM_EVAL","x":6,"y":279},{"s":"RCM_EVAL","x":7,"y":279.8},{"s":"RCM_EVAL","x":8,"y":280.5},{"s":"RCM_EVAL","x":9,"y":281.5},{"s":"RCM_EVAL","x":10,"y":283.5},{"s":"RCM_EVAL","x":11,"y":284.5},{"s":"RCM_EVAL","x":12,"y":285},{"s":"RCM_EVAL","x":13,"y":285.5},{"s":"RCM_EVAL","x":14,"y":286.5},{"s":"RCM_EVAL","x":15,"y":287.5},{"s":"RCM_EVAL","x":16,"y":288.7},{"s":"RCM_EVAL","x":17,"y":289.3},{"s":"RCM_EVAL","x":18,"y":290},{"s":"RCM_EVAL","x":19,"y":290.3},{"s":"RCM_EVAL","x":20,"y":290.5},{"s":"RCM_EVAL","x":21,"y":291},{"s":"RCM_EVAL","x":22,"y":291.3},{"s":"RCM_EVAL","x":23,"y":291.8},{"s":"RCM_EVAL","x":24,"y":292.3},{"s":"RCM_EVAL","x":25,"y":292.8},{"s":"RCM_EVAL","x":26,"y":293.5},{"s":"RCM_EVAL","x":27,"y":294.5},
{"s":"CPM_EVAL","x":4,"y":279},{"s":"CPM_EVAL","x":5,"y":279},{"s":"CPM_EVAL","x":6,"y":280.5},{"s":"CPM_EVAL","x":7,"y":281.5},{"s":"CPM_EVAL","x":8,"y":282.3},{"s":"CPM_EVAL","x":9,"y":283.3},{"s":"CPM_EVAL","x":10,"y":284},{"s":"CPM_EVAL","x":11,"y":284.5},{"s":"CPM_EVAL","x":12,"y":285.3},{"s":"CPM_EVAL","x":13,"y":285.8},{"s":"CPM_EVAL","x":14,"y":286.3},{"s":"CPM_EVAL","x":15,"y":286.8},{"s":"CPM_EVAL","x":16,"y":287.5},{"s":"CPM_EVAL","x":17,"y":288.5},{"s":"CPM_EVAL","x":18,"y":289.8},{"s":"CPM_EVAL","x":19,"y":290.5},{"s":"CPM_EVAL","x":20,"y":290.8},{"s":"CPM_EVAL","x":21,"y":291.2},{"s":"CPM_EVAL","x":22,"y":291.7},{"s":"CPM_EVAL","x":23,"y":292},{"s":"CPM_EVAL","x":24,"y":292.5},{"s":"CPM_EVAL","x":25,"y":292.8},
{"s":"RCM_MPI_HIST","x":4,"y":276},{"s":"RCM_MPI_HIST","x":5,"y":277.5},{"s":"RCM_MPI_HIST","x":6,"y":279.5},{"s":"RCM_MPI_HIST","x":7,"y":279.5},{"s":"RCM_MPI_HIST","x":8,"y":281.5},{"s":"RCM_MPI_HIST","x":9,"y":282},{"s":"RCM_MPI_HIST","x":10,"y":282.5},{"s":"RCM_MPI_HIST","x":11,"y":283.5},{"s":"RCM_MPI_HIST","x":12,"y":284},{"s":"RCM_MPI_HIST","x":13,"y":284.8},{"s":"RCM_MPI_HIST","x":14,"y":286},{"s":"RCM_MPI_HIST","x":15,"y":287},{"s":"RCM_MPI_HIST","x":16,"y":286.5},{"s":"RCM_MPI_HIST","x":17,"y":287},{"s":"RCM_MPI_HIST","x":18,"y":288},{"s":"RCM_MPI_HIST","x":19,"y":289.5},{"s":"RCM_MPI_HIST","x":20,"y":290},{"s":"RCM_MPI_HIST","x":21,"y":290.5},{"s":"RCM_MPI_HIST","x":22,"y":291},{"s":"RCM_MPI_HIST","x":23,"y":291.5},{"s":"RCM_MPI_HIST","x":24,"y":292},{"s":"RCM_MPI_HIST","x":25,"y":292.3},
{"s":"CPM_MPI_HIST","x":4,"y":276},{"s":"CPM_MPI_HIST","x":5,"y":277},{"s":"CPM_MPI_HIST","x":6,"y":279.5},{"s":"CPM_MPI_HIST","x":7,"y":280},{"s":"CPM_MPI_HIST","x":8,"y":280.3},{"s":"CPM_MPI_HIST","x":9,"y":281},{"s":"CPM_MPI_HIST","x":10,"y":281.7},{"s":"CPM_MPI_HIST","x":11,"y":282.8},{"s":"CPM_MPI_HIST","x":12,"y":284},{"s":"CPM_MPI_HIST","x":13,"y":285},{"s":"CPM_MPI_HIST","x":14,"y":285.5},{"s":"CPM_MPI_HIST","x":15,"y":286.5},{"s":"CPM_MPI_HIST","x":16,"y":287.5},{"s":"CPM_MPI_HIST","x":17,"y":288},{"s":"CPM_MPI_HIST","x":18,"y":289},{"s":"CPM_MPI_HIST","x":19,"y":289.5},{"s":"CPM_MPI_HIST","x":20,"y":290.3},{"s":"CPM_MPI_HIST","x":21,"y":291},{"s":"CPM_MPI_HIST","x":22,"y":291.5},{"s":"CPM_MPI_HIST","x":23,"y":291.8},{"s":"CPM_MPI_HIST","x":24,"y":292.2},
{"s":"RCM_MPI_RCP85","x":4,"y":282.5},{"s":"RCM_MPI_RCP85","x":5,"y":284.3},{"s":"RCM_MPI_RCP85","x":6,"y":285.5},{"s":"RCM_MPI_RCP85","x":7,"y":286},{"s":"RCM_MPI_RCP85","x":8,"y":285.7},{"s":"RCM_MPI_RCP85","x":9,"y":285.3},{"s":"RCM_MPI_RCP85","x":10,"y":285.5},{"s":"RCM_MPI_RCP85","x":11,"y":285},{"s":"RCM_MPI_RCP85","x":12,"y":285},{"s":"RCM_MPI_RCP85","x":13,"y":285.5},{"s":"RCM_MPI_RCP85","x":14,"y":286.5},{"s":"RCM_MPI_RCP85","x":15,"y":287.5},{"s":"RCM_MPI_RCP85","x":16,"y":288.5},{"s":"RCM_MPI_RCP85","x":17,"y":289},{"s":"RCM_MPI_RCP85","x":18,"y":289.8},{"s":"RCM_MPI_RCP85","x":19,"y":290.5},{"s":"RCM_MPI_RCP85","x":20,"y":291},{"s":"RCM_MPI_RCP85","x":21,"y":291.8},{"s":"RCM_MPI_RCP85","x":22,"y":292.5},{"s":"RCM_MPI_RCP85","x":23,"y":293.3},{"s":"RCM_MPI_RCP85","x":24,"y":294},{"s":"RCM_MPI_RCP85","x":25,"y":294.5},{"s":"RCM_MPI_RCP85","x":26,"y":295.3},{"s":"RCM_MPI_RCP85","x":27,"y":295.8},{"s":"RCM_MPI_RCP85","x":28,"y":296.3},{"s":"RCM_MPI_RCP85","x":29,"y":296.3},
{"s":"CPM_MPI_RCP85","x":4,"y":283.5},{"s":"CPM_MPI_RCP85","x":5,"y":283.8},{"s":"CPM_MPI_RCP85","x":6,"y":284},{"s":"CPM_MPI_RCP85","x":7,"y":284.5},{"s":"CPM_MPI_RCP85","x":8,"y":284.8},{"s":"CPM_MPI_RCP85","x":9,"y":285},{"s":"CPM_MPI_RCP85","x":10,"y":285.3},{"s":"CPM_MPI_RCP85","x":11,"y":285},{"s":"CPM_MPI_RCP85","x":12,"y":285.3},{"s":"CPM_MPI_RCP85","x":13,"y":285.8},{"s":"CPM_MPI_RCP85","x":14,"y":286.5},{"s":"CPM_MPI_RCP85","x":15,"y":287.5},{"s":"CPM_MPI_RCP85","x":16,"y":288.5},{"s":"CPM_MPI_RCP85","x":17,"y":289},{"s":"CPM_MPI_RCP85","x":18,"y":289.8},{"s":"CPM_MPI_RCP85","x":19,"y":290.5},{"s":"CPM_MPI_RCP85","x":20,"y":291.5},{"s":"CPM_MPI_RCP85","x":21,"y":292.3},{"s":"CPM_MPI_RCP85","x":22,"y":293},{"s":"CPM_MPI_RCP85","x":23,"y":293.5},{"s":"CPM_MPI_RCP85","x":24,"y":294},{"s":"CPM_MPI_RCP85","x":25,"y":294.5},{"s":"CPM_MPI_RCP85","x":26,"y":295},{"s":"CPM_MPI_RCP85","x":27,"y":295.5},
{"s":"RCM_UKE_HIST","x":4,"y":279},{"s":"RCM_UKE_HIST","x":5,"y":280.5},{"s":"RCM_UKE_HIST","x":6,"y":280.5},{"s":"RCM_UKE_HIST","x":7,"y":281.5},{"s":"RCM_UKE_HIST","x":8,"y":282.5},{"s":"RCM_UKE_HIST","x":9,"y":283.5},{"s":"RCM_UKE_HIST","x":10,"y":284.5},{"s":"RCM_UKE_HIST","x":11,"y":284.5},{"s":"RCM_UKE_HIST","x":12,"y":285.5},{"s":"RCM_UKE_HIST","x":13,"y":286},{"s":"RCM_UKE_HIST","x":14,"y":286.8},{"s":"RCM_UKE_HIST","x":15,"y":287.5},{"s":"RCM_UKE_HIST","x":16,"y":288.2},{"s":"RCM_UKE_HIST","x":17,"y":288.8},{"s":"RCM_UKE_HIST","x":18,"y":289.3},{"s":"RCM_UKE_HIST","x":19,"y":289.8},{"s":"RCM_UKE_HIST","x":20,"y":290.3},{"s":"RCM_UKE_HIST","x":21,"y":290.8},{"s":"RCM_UKE_HIST","x":22,"y":291.3},{"s":"RCM_UKE_HIST","x":23,"y":291.8},{"s":"RCM_UKE_HIST","x":24,"y":292.3},{"s":"RCM_UKE_HIST","x":25,"y":292.8},{"s":"RCM_UKE_HIST","x":26,"y":293},{"s":"RCM_UKE_HIST","x":27,"y":293.5},
{"s":"CPM_UKE_HIST","x":4,"y":279},{"s":"CPM_UKE_HIST","x":5,"y":280},{"s":"CPM_UKE_HIST","x":6,"y":280.5},{"s":"CPM_UKE_HIST","x":7,"y":281},{"s":"CPM_UKE_HIST","x":8,"y":280.7},{"s":"CPM_UKE_HIST","x":9,"y":282},{"s":"CPM_UKE_HIST","x":10,"y":283.5},{"s":"CPM_UKE_HIST","x":11,"y":284.5},{"s":"CPM_UKE_HIST","x":12,"y":285},{"s":"CPM_UKE_HIST","x":13,"y":285.5},{"s":"CPM_UKE_HIST","x":14,"y":286.5},{"s":"CPM_UKE_HIST","x":15,"y":287.5},{"s":"CPM_UKE_HIST","x":16,"y":288.5},{"s":"CPM_UKE_HIST","x":17,"y":289},{"s":"CPM_UKE_HIST","x":18,"y":289.3},{"s":"CPM_UKE_HIST","x":19,"y":289.8},{"s":"CPM_UKE_HIST","x":20,"y":290.3},{"s":"CPM_UKE_HIST","x":21,"y":291},{"s":"CPM_UKE_HIST","x":22,"y":291.5},{"s":"CPM_UKE_HIST","x":23,"y":292},{"s":"CPM_UKE_HIST","x":24,"y":292.3},{"s":"CPM_UKE_HIST","x":25,"y":292.5},
{"s":"RCM_UKE_SSP585","x":8,"y":285.5},{"s":"RCM_UKE_SSP585","x":9,"y":286},{"s":"RCM_UKE_SSP585","x":10,"y":287},{"s":"RCM_UKE_SSP585","x":11,"y":287.3},{"s":"RCM_UKE_SSP585","x":12,"y":287},{"s":"RCM_UKE_SSP585","x":13,"y":287.3},{"s":"RCM_UKE_SSP585","x":14,"y":288.2},{"s":"RCM_UKE_SSP585","x":15,"y":288.5},{"s":"RCM_UKE_SSP585","x":16,"y":288.5},{"s":"RCM_UKE_SSP585","x":17,"y":289},{"s":"RCM_UKE_SSP585","x":18,"y":290},{"s":"RCM_UKE_SSP585","x":19,"y":291},{"s":"RCM_UKE_SSP585","x":20,"y":291.8},{"s":"RCM_UKE_SSP585","x":21,"y":292.3},{"s":"RCM_UKE_SSP585","x":22,"y":292.8},{"s":"RCM_UKE_SSP585","x":23,"y":293.2},{"s":"RCM_UKE_SSP585","x":24,"y":294},{"s":"RCM_UKE_SSP585","x":25,"y":295},{"s":"RCM_UKE_SSP585","x":26,"y":296},{"s":"RCM_UKE_SSP585","x":27,"y":296.8},{"s":"RCM_UKE_SSP585","x":28,"y":297.3},{"s":"RCM_UKE_SSP585","x":29,"y":297.5},{"s":"RCM_UKE_SSP585","x":30,"y":297.7},{"s":"RCM_UKE_SSP585","x":31,"y":298},{"s":"RCM_UKE_SSP585","x":32,"y":298.8},
{"s":"CPM_UKE_SSP585","x":8,"y":285.2},{"s":"CPM_UKE_SSP585","x":9,"y":285.8},{"s":"CPM_UKE_SSP585","x":10,"y":286.2},{"s":"CPM_UKE_SSP585","x":11,"y":286},{"s":"CPM_UKE_SSP585","x":12,"y":286.5},{"s":"CPM_UKE_SSP585","x":13,"y":287.3},{"s":"CPM_UKE_SSP585","x":14,"y":287.8},{"s":"CPM_UKE_SSP585","x":15,"y":288.2},{"s":"CPM_UKE_SSP585","x":16,"y":288.5},{"s":"CPM_UKE_SSP585","x":17,"y":289},{"s":"CPM_UKE_SSP585","x":18,"y":290},{"s":"CPM_UKE_SSP585","x":19,"y":291.5},{"s":"CPM_UKE_SSP585","x":20,"y":292.5},{"s":"CPM_UKE_SSP585","x":21,"y":293},{"s":"CPM_UKE_SSP585","x":22,"y":293.5},{"s":"CPM_UKE_SSP585","x":23,"y":294.3},{"s":"CPM_UKE_SSP585","x":24,"y":295},{"s":"CPM_UKE_SSP585","x":25,"y":296.3},{"s":"CPM_UKE_SSP585","x":26,"y":297},{"s":"CPM_UKE_SSP585","x":27,"y":297.3},{"s":"CPM_UKE_SSP585","x":28,"y":297.5},{"s":"CPM_UKE_SSP585","x":29,"y":297.7},{"s":"CPM_UKE_SSP585","x":30,"y":298.2}
]
},
"concat": [
{"width":162,"height":148,"title":"ERA-Interim","resolve":{"axis":{"x":"independent"}},"layer":[
 {"data":{"values":[{"x":4,"y":210},{"x":32,"y":238.5}]},"mark":{"type":"line","color":"#e0e9a6","strokeWidth":1.2,"clip":true},"encoding":{"x":{"field":"x","type":"quantitative","scale":{"domain":[3.7,32.1],"nice":false},"axis":null},"y":{"field":"y","type":"quantitative","scale":{"domain":[210,250],"nice":false},"axis":{"values":[210,220,230,240,250],"title":"T200 99ᵗʰ Percentile [°C]"}}}},
 {"data":{"values":[{"x":18}]},"mark":{"type":"rule","color":"#7f7f7f","strokeDash":[5,3],"strokeWidth":1.8},"encoding":{"x":{"field":"x","type":"quantitative","scale":{"domain":[3.7,32.1],"nice":false},"axis":{"orient":"bottom","values":[5,6,7,9,10,11,13,14,15,17,18,19,21,22,23,25,26,27,29,30,31],"labels":false,"domain":false,"tickSize":2,"title":null}}}},
 {"data":{"name":"T200"},"transform":[{"filter":{"field":"s","oneOf":["ERA5","RCM_EVAL","CPM_EVAL"]}}],"mark":{"type":"line","strokeWidth":1.7},"encoding":{
  "x":{"field":"x","type":"quantitative","scale":{"domain":[3.7,32.1],"nice":false},"axis":{"orient":"bottom","values":[4,8,12,16,20,24,28,32],"title":null}},
  "y":{"field":"y","type":"quantitative","scale":{"domain":[210,250],"nice":false},"axis":{"values":[210,220,230,240,250],"title":"T200 99ᵗʰ Percentile [°C]"}},
  "color":{"field":"s","type":"nominal","scale":{"domain":["ERA5","RCM_EVAL","CPM_EVAL"],"range":["#000000","#2040c8","#e62a2a"]},"legend":{"orient":"top-left","title":null}}}}
]},
{"width":162,"height":148,"title":"MPI-ESM-LR","resolve":{"axis":{"x":"independent"}},"layer":[
 {"data":{"values":[{"x":4,"y":210},{"x":32,"y":238.5}]},"mark":{"type":"line","color":"#e0e9a6","strokeWidth":1.2,"clip":true},"encoding":{"x":{"field":"x","type":"quantitative","scale":{"domain":[3.7,32.1],"nice":false},"axis":null},"y":{"field":"y","type":"quantitative","scale":{"domain":[210,250],"nice":false},"axis":{"values":[210,220,230,240,250],"title":null}}}},
 {"data":{"values":[{"x":18}]},"mark":{"type":"rule","color":"#7f7f7f","strokeDash":[5,3],"strokeWidth":1.8},"encoding":{"x":{"field":"x","type":"quantitative","scale":{"domain":[3.7,32.1],"nice":false},"axis":{"orient":"bottom","values":[5,6,7,9,10,11,13,14,15,17,18,19,21,22,23,25,26,27,29,30,31],"labels":false,"domain":false,"tickSize":2,"title":null}}}},
 {"data":{"name":"T200"},"transform":[{"filter":{"field":"s","oneOf":["ERA5","RCM_MPI_HIST","CPM_MPI_HIST","RCM_MPI_RCP85","CPM_MPI_RCP85"]}}],"mark":{"type":"line","strokeWidth":1.7},"encoding":{
  "x":{"field":"x","type":"quantitative","scale":{"domain":[3.7,32.1],"nice":false},"axis":{"orient":"bottom","values":[4,8,12,16,20,24,28,32],"title":null}},
  "y":{"field":"y","type":"quantitative","scale":{"domain":[210,250],"nice":false},"axis":{"values":[210,220,230,240,250],"title":null}},
  "color":{"field":"s","type":"nominal","scale":{"domain":["ERA5","RCM_MPI_HIST","CPM_MPI_HIST","RCM_MPI_RCP85","CPM_MPI_RCP85"],"range":["#000000","#2040c8","#e62a2a","#3fe0d0","#cc44cc"]},"legend":{"orient":"top-left","title":null}}}}
]},
{"width":162,"height":148,"title":"UKESM1-0-LL","resolve":{"axis":{"x":"independent"}},"layer":[
 {"data":{"values":[{"x":4,"y":210},{"x":32,"y":238.5}]},"mark":{"type":"line","color":"#e0e9a6","strokeWidth":1.2,"clip":true},"encoding":{"x":{"field":"x","type":"quantitative","scale":{"domain":[3.7,32.1],"nice":false},"axis":null},"y":{"field":"y","type":"quantitative","scale":{"domain":[210,250],"nice":false},"axis":{"values":[210,220,230,240,250],"title":null}}}},
 {"data":{"values":[{"x":18}]},"mark":{"type":"rule","color":"#7f7f7f","strokeDash":[5,3],"strokeWidth":1.8},"encoding":{"x":{"field":"x","type":"quantitative","scale":{"domain":[3.7,32.1],"nice":false},"axis":{"orient":"bottom","values":[5,6,7,9,10,11,13,14,15,17,18,19,21,22,23,25,26,27,29,30,31],"labels":false,"domain":false,"tickSize":2,"title":null}}}},
 {"data":{"name":"T200"},"transform":[{"filter":{"field":"s","oneOf":["ERA5","RCM_UKE_HIST","CPM_UKE_HIST","RCM_UKE_SSP585","CPM_UKE_SSP585"]}}],"mark":{"type":"line","strokeWidth":1.7},"encoding":{
  "x":{"field":"x","type":"quantitative","scale":{"domain":[3.7,32.1],"nice":false},"axis":{"orient":"bottom","values":[4,8,12,16,20,24,28,32],"title":null}},
  "y":{"field":"y","type":"quantitative","scale":{"domain":[210,250],"nice":false},"axis":{"values":[210,220,230,240,250],"title":null}},
  "color":{"field":"s","type":"nominal","scale":{"domain":["ERA5","RCM_UKE_HIST","CPM_UKE_HIST","RCM_UKE_SSP585","CPM_UKE_SSP585"],"range":["#000000","#2040c8","#e62a2a","#3fe0d0","#cc44cc"]},"legend":{"orient":"top-left","title":null}}}}
]},
{"width":162,"height":148,"resolve":{"axis":{"x":"independent"}},"layer":[
 {"data":{"values":[{"x":4,"y":254.8},{"x":32,"y":283.4}]},"mark":{"type":"line","color":"#e0e9a6","strokeWidth":1.2,"clip":true},"encoding":{"x":{"field":"x","type":"quantitative","scale":{"domain":[3.7,32.1],"nice":false},"axis":null},"y":{"field":"y","type":"quantitative","scale":{"domain":[250,290],"nice":false},"axis":{"values":[250,260,270,280,290],"title":"T500 99ᵗʰ Percentile [°C]"}}}},
 {"data":{"values":[{"x":18}]},"mark":{"type":"rule","color":"#7f7f7f","strokeDash":[5,3],"strokeWidth":1.8},"encoding":{"x":{"field":"x","type":"quantitative","scale":{"domain":[3.7,32.1],"nice":false},"axis":{"orient":"bottom","values":[5,6,7,9,10,11,13,14,15,17,18,19,21,22,23,25,26,27,29,30,31],"labels":false,"domain":false,"tickSize":2,"title":null}}}},
 {"data":{"name":"T500"},"transform":[{"filter":{"field":"s","oneOf":["ERA5","RCM_EVAL","CPM_EVAL"]}}],"mark":{"type":"line","strokeWidth":1.7},"encoding":{
  "x":{"field":"x","type":"quantitative","scale":{"domain":[3.7,32.1],"nice":false},"axis":{"orient":"bottom","values":[4,8,12,16,20,24,28,32],"title":null}},
  "y":{"field":"y","type":"quantitative","scale":{"domain":[250,290],"nice":false},"axis":{"values":[250,260,270,280,290],"title":"T500 99ᵗʰ Percentile [°C]"}},
  "color":{"field":"s","type":"nominal","scale":{"domain":["ERA5","RCM_EVAL","CPM_EVAL"],"range":["#000000","#2040c8","#e62a2a"]},"legend":{"orient":"top-left","title":null}}}}
]},
{"width":162,"height":148,"resolve":{"axis":{"x":"independent"}},"layer":[
 {"data":{"values":[{"x":4,"y":254.8},{"x":32,"y":283.4}]},"mark":{"type":"line","color":"#e0e9a6","strokeWidth":1.2,"clip":true},"encoding":{"x":{"field":"x","type":"quantitative","scale":{"domain":[3.7,32.1],"nice":false},"axis":null},"y":{"field":"y","type":"quantitative","scale":{"domain":[250,290],"nice":false},"axis":{"values":[250,260,270,280,290],"title":null}}}},
 {"data":{"values":[{"x":18}]},"mark":{"type":"rule","color":"#7f7f7f","strokeDash":[5,3],"strokeWidth":1.8},"encoding":{"x":{"field":"x","type":"quantitative","scale":{"domain":[3.7,32.1],"nice":false},"axis":{"orient":"bottom","values":[5,6,7,9,10,11,13,14,15,17,18,19,21,22,23,25,26,27,29,30,31],"labels":false,"domain":false,"tickSize":2,"title":null}}}},
 {"data":{"name":"T500"},"transform":[{"filter":{"field":"s","oneOf":["ERA5","RCM_MPI_HIST","CPM_MPI_HIST","RCM_MPI_RCP85","CPM_MPI_RCP85"]}}],"mark":{"type":"line","strokeWidth":1.7},"encoding":{
  "x":{"field":"x","type":"quantitative","scale":{"domain":[3.7,32.1],"nice":false},"axis":{"orient":"bottom","values":[4,8,12,16,20,24,28,32],"title":null}},
  "y":{"field":"y","type":"quantitative","scale":{"domain":[250,290],"nice":false},"axis":{"values":[250,260,270,280,290],"title":null}},
  "color":{"field":"s","type":"nominal","scale":{"domain":["ERA5","RCM_MPI_HIST","CPM_MPI_HIST","RCM_MPI_RCP85","CPM_MPI_RCP85"],"range":["#000000","#2040c8","#e62a2a","#3fe0d0","#cc44cc"]},"legend":{"orient":"top-left","title":null}}}}
]},
{"width":162,"height":148,"resolve":{"axis":{"x":"independent"}},"layer":[
 {"data":{"values":[{"x":4,"y":254.8},{"x":32,"y":283.4}]},"mark":{"type":"line","color":"#e0e9a6","strokeWidth":1.2,"clip":true},"encoding":{"x":{"field":"x","type":"quantitative","scale":{"domain":[3.7,32.1],"nice":false},"axis":null},"y":{"field":"y","type":"quantitative","scale":{"domain":[250,290],"nice":false},"axis":{"values":[250,260,270,280,290],"title":null}}}},
 {"data":{"values":[{"x":18}]},"mark":{"type":"rule","color":"#7f7f7f","strokeDash":[5,3],"strokeWidth":1.8},"encoding":{"x":{"field":"x","type":"quantitative","scale":{"domain":[3.7,32.1],"nice":false},"axis":{"orient":"bottom","values":[5,6,7,9,10,11,13,14,15,17,18,19,21,22,23,25,26,27,29,30,31],"labels":false,"domain":false,"tickSize":2,"title":null}}}},
 {"data":{"name":"T500"},"transform":[{"filter":{"field":"s","oneOf":["ERA5","RCM_UKE_HIST","CPM_UKE_HIST","RCM_UKE_SSP585","CPM_UKE_SSP585"]}}],"mark":{"type":"line","strokeWidth":1.7},"encoding":{
  "x":{"field":"x","type":"quantitative","scale":{"domain":[3.7,32.1],"nice":false},"axis":{"orient":"bottom","values":[4,8,12,16,20,24,28,32],"title":null}},
  "y":{"field":"y","type":"quantitative","scale":{"domain":[250,290],"nice":false},"axis":{"values":[250,260,270,280,290],"title":null}},
  "color":{"field":"s","type":"nominal","scale":{"domain":["ERA5","RCM_UKE_HIST","CPM_UKE_HIST","RCM_UKE_SSP585","CPM_UKE_SSP585"],"range":["#000000","#2040c8","#e62a2a","#3fe0d0","#cc44cc"]},"legend":{"orient":"top-left","title":null}}}}
]},
{"width":162,"height":148,"resolve":{"axis":{"x":"independent"}},"layer":[
 {"data":{"values":[{"x":4,"y":269.8},{"x":32,"y":298.2}]},"mark":{"type":"line","color":"#e0e9a6","strokeWidth":1.2,"clip":true},"encoding":{"x":{"field":"x","type":"quantitative","scale":{"domain":[3.7,32.1],"nice":false},"axis":null},"y":{"field":"y","type":"quantitative","scale":{"domain":[260,300],"nice":false},"axis":{"values":[260,270,280,290,300],"title":"T700 99ᵗʰ Percentile [°C]"}}}},
 {"data":{"values":[{"x":18}]},"mark":{"type":"rule","color":"#7f7f7f","strokeDash":[5,3],"strokeWidth":1.8},"encoding":{"x":{"field":"x","type":"quantitative","scale":{"domain":[3.7,32.1],"nice":false},"axis":{"orient":"bottom","values":[5,6,7,9,10,11,13,14,15,17,18,19,21,22,23,25,26,27,29,30,31],"labels":false,"domain":false,"tickSize":2,"title":null}}}},
 {"data":{"name":"T700"},"transform":[{"filter":{"field":"s","oneOf":["ERA5","RCM_EVAL","CPM_EVAL"]}}],"mark":{"type":"line","strokeWidth":1.7},"encoding":{
  "x":{"field":"x","type":"quantitative","scale":{"domain":[3.7,32.1],"nice":false},"axis":{"orient":"bottom","values":[4,8,12,16,20,24,28,32],"title":null}},
  "y":{"field":"y","type":"quantitative","scale":{"domain":[260,300],"nice":false},"axis":{"values":[260,270,280,290,300],"title":"T700 99ᵗʰ Percentile [°C]"}},
  "color":{"field":"s","type":"nominal","scale":{"domain":["ERA5","RCM_EVAL","CPM_EVAL"],"range":["#000000","#2040c8","#e62a2a"]},"legend":{"orient":"top-left","title":null}}}}
]},
{"width":162,"height":148,"resolve":{"axis":{"x":"independent"}},"layer":[
 {"data":{"values":[{"x":4,"y":269.8},{"x":32,"y":298.2}]},"mark":{"type":"line","color":"#e0e9a6","strokeWidth":1.2,"clip":true},"encoding":{"x":{"field":"x","type":"quantitative","scale":{"domain":[3.7,32.1],"nice":false},"axis":null},"y":{"field":"y","type":"quantitative","scale":{"domain":[260,300],"nice":false},"axis":{"values":[260,270,280,290,300],"title":null}}}},
 {"data":{"values":[{"x":18}]},"mark":{"type":"rule","color":"#7f7f7f","strokeDash":[5,3],"strokeWidth":1.8},"encoding":{"x":{"field":"x","type":"quantitative","scale":{"domain":[3.7,32.1],"nice":false},"axis":{"orient":"bottom","values":[5,6,7,9,10,11,13,14,15,17,18,19,21,22,23,25,26,27,29,30,31],"labels":false,"domain":false,"tickSize":2,"title":null}}}},
 {"data":{"name":"T700"},"transform":[{"filter":{"field":"s","oneOf":["ERA5","RCM_MPI_HIST","CPM_MPI_HIST","RCM_MPI_RCP85","CPM_MPI_RCP85"]}}],"mark":{"type":"line","strokeWidth":1.7},"encoding":{
  "x":{"field":"x","type":"quantitative","scale":{"domain":[3.7,32.1],"nice":false},"axis":{"orient":"bottom","values":[4,8,12,16,20,24,28,32],"title":null}},
  "y":{"field":"y","type":"quantitative","scale":{"domain":[260,300],"nice":false},"axis":{"values":[260,270,280,290,300],"title":null}},
  "color":{"field":"s","type":"nominal","scale":{"domain":["ERA5","RCM_MPI_HIST","CPM_MPI_HIST","RCM_MPI_RCP85","CPM_MPI_RCP85"],"range":["#000000","#2040c8","#e62a2a","#3fe0d0","#cc44cc"]},"legend":{"orient":"top-left","title":null}}}}
]},
{"width":162,"height":148,"resolve":{"axis":{"x":"independent"}},"layer":[
 {"data":{"values":[{"x":4,"y":269.8},{"x":32,"y":298.2}]},"mark":{"type":"line","color":"#e0e9a6","strokeWidth":1.2,"clip":true},"encoding":{"x":{"field":"x","type":"quantitative","scale":{"domain":[3.7,32.1],"nice":false},"axis":null},"y":{"field":"y","type":"quantitative","scale":{"domain":[260,300],"nice":false},"axis":{"values":[260,270,280,290,300],"title":null}}}},
 {"data":{"values":[{"x":18}]},"mark":{"type":"rule","color":"#7f7f7f","strokeDash":[5,3],"strokeWidth":1.8},"encoding":{"x":{"field":"x","type":"quantitative","scale":{"domain":[3.7,32.1],"nice":false},"axis":{"orient":"bottom","values":[5,6,7,9,10,11,13,14,15,17,18,19,21,22,23,25,26,27,29,30,31],"labels":false,"domain":false,"tickSize":2,"title":null}}}},
 {"data":{"name":"T700"},"transform":[{"filter":{"field":"s","oneOf":["ERA5","RCM_UKE_HIST","CPM_UKE_HIST","RCM_UKE_SSP585","CPM_UKE_SSP585"]}}],"mark":{"type":"line","strokeWidth":1.7},"encoding":{
  "x":{"field":"x","type":"quantitative","scale":{"domain":[3.7,32.1],"nice":false},"axis":{"orient":"bottom","values":[4,8,12,16,20,24,28,32],"title":null}},
  "y":{"field":"y","type":"quantitative","scale":{"domain":[260,300],"nice":false},"axis":{"values":[260,270,280,290,300],"title":null}},
  "color":{"field":"s","type":"nominal","scale":{"domain":["ERA5","RCM_UKE_HIST","CPM_UKE_HIST","RCM_UKE_SSP585","CPM_UKE_SSP585"],"range":["#000000","#2040c8","#e62a2a","#3fe0d0","#cc44cc"]},"legend":{"orient":"top-left","title":null}}}}
]},
{"width":162,"height":148,"resolve":{"axis":{"x":"independent"}},"layer":[
 {"data":{"values":[{"x":4,"y":274.8},{"x":32,"y":303.2}]},"mark":{"type":"line","color":"#e0e9a6","strokeWidth":1.2,"clip":true},"encoding":{"x":{"field":"x","type":"quantitative","scale":{"domain":[3.7,32.1],"nice":false},"axis":null},"y":{"field":"y","type":"quantitative","scale":{"domain":[270,310],"nice":false},"axis":{"values":[270,280,290,300,310],"title":"T850 99ᵗʰ Percentile [°C]"}}}},
 {"data":{"values":[{"x":18}]},"mark":{"type":"rule","color":"#7f7f7f","strokeDash":[5,3],"strokeWidth":1.8},"encoding":{"x":{"field":"x","type":"quantitative","scale":{"domain":[3.7,32.1],"nice":false},"axis":{"orient":"bottom","values":[5,6,7,9,10,11,13,14,15,17,18,19,21,22,23,25,26,27,29,30,31],"labels":false,"domain":false,"tickSize":2,"title":null}}}},
 {"data":{"name":"T850"},"transform":[{"filter":{"field":"s","oneOf":["ERA5","RCM_EVAL","CPM_EVAL"]}}],"mark":{"type":"line","strokeWidth":1.7},"encoding":{
  "x":{"field":"x","type":"quantitative","scale":{"domain":[3.7,32.1],"nice":false},"axis":{"orient":"bottom","values":[4,8,12,16,20,24,28,32],"title":"Dew Point Temperature [°C]"}},
  "y":{"field":"y","type":"quantitative","scale":{"domain":[270,310],"nice":false},"axis":{"values":[270,280,290,300,310],"title":"T850 99ᵗʰ Percentile [°C]"}},
  "color":{"field":"s","type":"nominal","scale":{"domain":["ERA5","RCM_EVAL","CPM_EVAL"],"range":["#000000","#2040c8","#e62a2a"]},"legend":{"orient":"top-left","title":null}}}}
]},
{"width":162,"height":148,"resolve":{"axis":{"x":"independent"}},"layer":[
 {"data":{"values":[{"x":4,"y":274.8},{"x":32,"y":303.2}]},"mark":{"type":"line","color":"#e0e9a6","strokeWidth":1.2,"clip":true},"encoding":{"x":{"field":"x","type":"quantitative","scale":{"domain":[3.7,32.1],"nice":false},"axis":null},"y":{"field":"y","type":"quantitative","scale":{"domain":[270,310],"nice":false},"axis":{"values":[270,280,290,300,310],"title":null}}}},
 {"data":{"values":[{"x":18}]},"mark":{"type":"rule","color":"#7f7f7f","strokeDash":[5,3],"strokeWidth":1.8},"encoding":{"x":{"field":"x","type":"quantitative","scale":{"domain":[3.7,32.1],"nice":false},"axis":{"orient":"bottom","values":[5,6,7,9,10,11,13,14,15,17,18,19,21,22,23,25,26,27,29,30,31],"labels":false,"domain":false,"tickSize":2,"title":null}}}},
 {"data":{"name":"T850"},"transform":[{"filter":{"field":"s","oneOf":["ERA5","RCM_MPI_HIST","CPM_MPI_HIST","RCM_MPI_RCP85","CPM_MPI_RCP85"]}}],"mark":{"type":"line","strokeWidth":1.7},"encoding":{
  "x":{"field":"x","type":"quantitative","scale":{"domain":[3.7,32.1],"nice":false},"axis":{"orient":"bottom","values":[4,8,12,16,20,24,28,32],"title":"Dew Point Temperature [°C]"}},
  "y":{"field":"y","type":"quantitative","scale":{"domain":[270,310],"nice":false},"axis":{"values":[270,280,290,300,310],"title":null}},
  "color":{"field":"s","type":"nominal","scale":{"domain":["ERA5","RCM_MPI_HIST","CPM_MPI_HIST","RCM_MPI_RCP85","CPM_MPI_RCP85"],"range":["#000000","#2040c8","#e62a2a","#3fe0d0","#cc44cc"]},"legend":{"orient":"top-left","title":null}}}}
]},
{"width":162,"height":148,"resolve":{"axis":{"x":"independent"}},"layer":[
 {"data":{"values":[{"x":4,"y":274.8},{"x":32,"y":303.2}]},"mark":{"type":"line","color":"#e0e9a6","strokeWidth":1.2,"clip":true},"encoding":{"x":{"field":"x","type":"quantitative","scale":{"domain":[3.7,32.1],"nice":false},"axis":null},"y":{"field":"y","type":"quantitative","scale":{"domain":[270,310],"nice":false},"axis":{"values":[270,280,290,300,310],"title":null}}}},
 {"data":{"values":[{"x":18}]},"mark":{"type":"rule","color":"#7f7f7f","strokeDash":[5,3],"strokeWidth":1.8},"encoding":{"x":{"field":"x","type":"quantitative","scale":{"domain":[3.7,32.1],"nice":false},"axis":{"orient":"bottom","values":[5,6,7,9,10,11,13,14,15,17,18,19,21,22,23,25,26,27,29,30,31],"labels":false,"domain":false,"tickSize":2,"title":null}}}},
 {"data":{"name":"T850"},"transform":[{"filter":{"field":"s","oneOf":["ERA5","RCM_UKE_HIST","CPM_UKE_HIST","RCM_UKE_SSP585","CPM_UKE_SSP585"]}}],"mark":{"type":"line","strokeWidth":1.7},"encoding":{
  "x":{"field":"x","type":"quantitative","scale":{"domain":[3.7,32.1],"nice":false},"axis":{"orient":"bottom","values":[4,8,12,16,20,24,28,32],"title":"Dew Point Temperature [°C]"}},
  "y":{"field":"y","type":"quantitative","scale":{"domain":[270,310],"nice":false},"axis":{"values":[270,280,290,300,310],"title":null}},
  "color":{"field":"s","type":"nominal","scale":{"domain":["ERA5","RCM_UKE_HIST","CPM_UKE_HIST","RCM_UKE_SSP585","CPM_UKE_SSP585"],"range":["#000000","#2040c8","#e62a2a","#3fe0d0","#cc44cc"]},"legend":{"orient":"top-left","title":null}}}}
]}
]
}
